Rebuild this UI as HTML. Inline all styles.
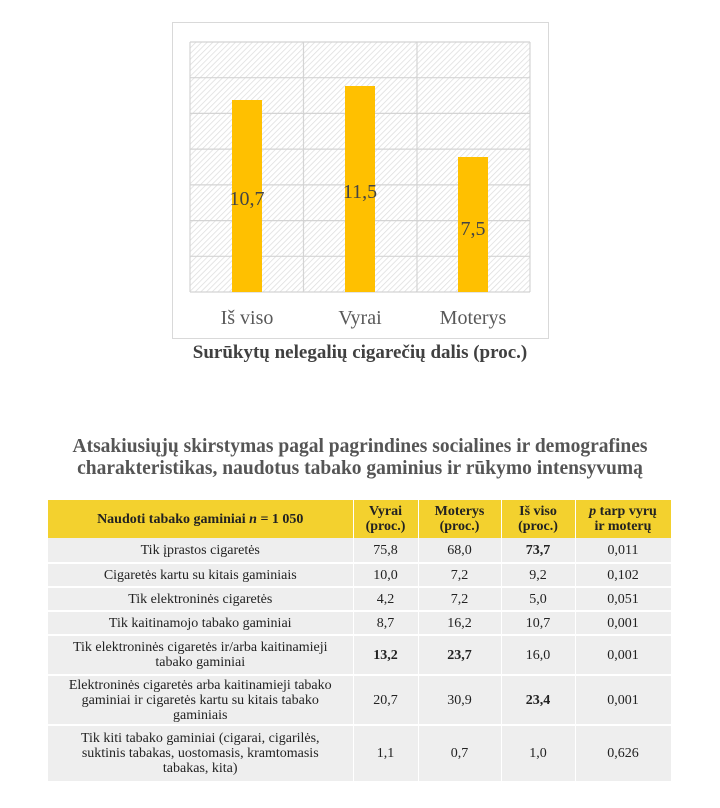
<!DOCTYPE html>
<html><head><meta charset="utf-8"><style>
body{margin:0;width:720px;height:808px;background:#fff;font-family:"Liberation Serif",serif;position:relative;overflow:hidden}
.t{position:absolute;left:0;width:720px;text-align:center;color:#555;font-weight:bold}
table{position:absolute;left:48px;top:500px;width:623px;border-collapse:collapse;font-size:14px;color:#222;table-layout:fixed}
td{text-align:center;background:#eeeeee;border-bottom:2px solid #fff;border-right:1px solid #fff;padding:0 3px;line-height:15px}
tr.h td{background:#f3d12e;font-weight:bold;color:#222;border-bottom:0}
</style></head><body>
<svg width="720" height="345" style="position:absolute;left:0;top:0">
<defs><pattern id="p" width="4" height="4" patternUnits="userSpaceOnUse" patternTransform="rotate(45)"><rect width="4" height="4" fill="#fff"/><line x1="0" y1="0" x2="0" y2="4" stroke="#ddd" stroke-width="1.5"/></pattern></defs>
<rect x="172.5" y="22.5" width="376" height="316" fill="#fff" stroke="#d9d9d9"/>
<rect x="190" y="42" width="340" height="250" fill="url(#p)"/>
<g stroke="#d4d4d4" stroke-width="1.2">
<line x1="190" x2="530" y1="42" y2="42"/><line x1="190" x2="530" y1="77.7" y2="77.7"/><line x1="190" x2="530" y1="113.4" y2="113.4"/><line x1="190" x2="530" y1="149.1" y2="149.1"/><line x1="190" x2="530" y1="184.9" y2="184.9"/><line x1="190" x2="530" y1="220.6" y2="220.6"/><line x1="190" x2="530" y1="256.3" y2="256.3"/><line x1="190" x2="530" y1="292" y2="292"/>
<line x1="190" x2="190" y1="42" y2="292"/><line x1="303.5" x2="303.5" y1="42" y2="292"/><line x1="417" x2="417" y1="42" y2="292"/><line x1="530" x2="530" y1="42" y2="292"/>
</g>
<rect x="232" y="100" width="30" height="192" fill="#ffc000"/>
<rect x="345" y="86" width="30" height="206" fill="#ffc000"/>
<rect x="458" y="157" width="30" height="135" fill="#ffc000"/>
<g font-family="Liberation Serif,serif" font-size="20" fill="#444" text-anchor="middle">
<text x="247" y="205">10,7</text><text x="360" y="198">11,5</text><text x="473" y="235">7,5</text>
</g>
<g font-family="Liberation Serif,serif" font-size="20" fill="#595959" text-anchor="middle">
<text x="247" y="324">Iš viso</text><text x="360" y="324">Vyrai</text><text x="473" y="324">Moterys</text>
</g>
</svg>
<div class="t" style="top:342px;font-size:19px;color:#404040">Surūkytų nelegalių cigarečių dalis (proc.)</div>
<div class="t" style="top:436px;font-size:19.5px;line-height:22px">Atsakiusiųjų skirstymas pagal pagrindines socialines ir demografines<br>charakteristikas, naudotus tabako gaminius ir rūkymo intensyvumą</div>
<table>
<colgroup><col style="width:305px"><col style="width:65px"><col style="width:83px"><col style="width:74px"><col style="width:96px"></colgroup>
<tr class="h" style="height:38px"><td>Naudoti tabako gaminiai <i>n</i> = 1 050</td><td>Vyrai<br>(proc.)</td><td>Moterys<br>(proc.)</td><td>Iš viso<br>(proc.)</td><td><i>p</i> tarp vyrų<br>ir moterų</td></tr>
<tr style="height:25px"><td>Tik įprastos cigaretės</td><td>75,8</td><td>68,0</td><td><b>73,7</b></td><td>0,011</td></tr>
<tr style="height:24px"><td>Cigaretės kartu su kitais gaminiais</td><td>10,0</td><td>7,2</td><td>9,2</td><td>0,102</td></tr>
<tr style="height:24px"><td>Tik elektroninės cigaretės</td><td>4,2</td><td>7,2</td><td>5,0</td><td>0,051</td></tr>
<tr style="height:24px"><td>Tik kaitinamojo tabako gaminiai</td><td>8,7</td><td>16,2</td><td>10,7</td><td>0,001</td></tr>
<tr style="height:40px"><td>Tik elektroninės cigaretės ir/arba kaitinamieji<br>tabako gaminiai</td><td><b>13,2</b></td><td><b>23,7</b></td><td>16,0</td><td>0,001</td></tr>
<tr style="height:50px"><td>Elektroninės cigaretės arba kaitinamieji tabako<br>gaminiai ir cigaretės kartu su kitais tabako<br>gaminiais</td><td>20,7</td><td>30,9</td><td><b>23,4</b></td><td>0,001</td></tr>
<tr style="height:57px"><td>Tik kiti tabako gaminiai (cigarai, cigarilės,<br>suktinis tabakas, uostomasis, kramtomasis<br>tabakas, kita)</td><td>1,1</td><td>0,7</td><td>1,0</td><td>0,626</td></tr>
</table>
</body></html>
